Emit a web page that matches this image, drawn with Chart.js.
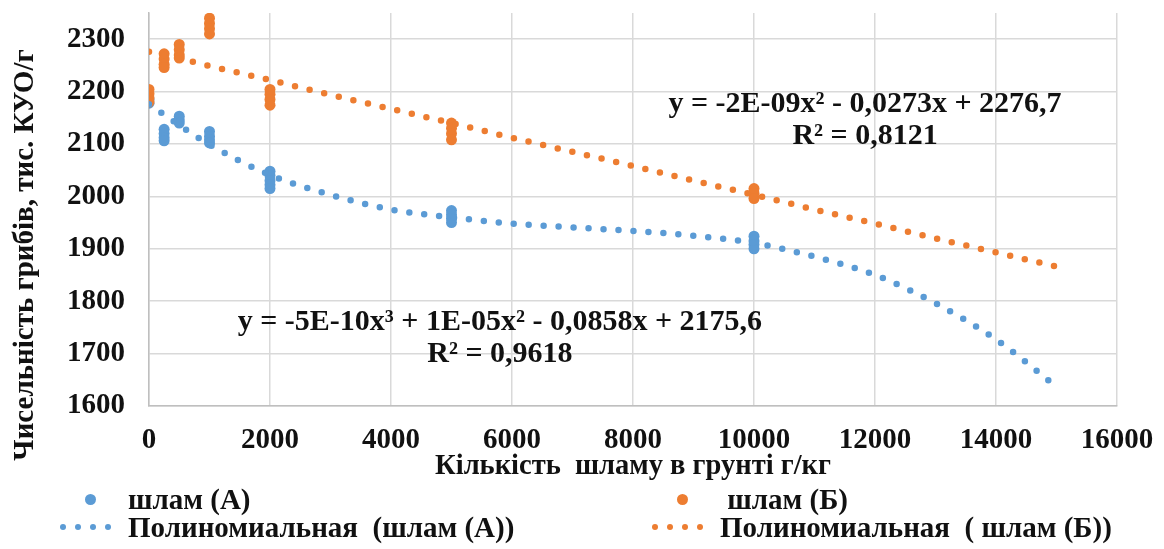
<!DOCTYPE html>
<html lang="uk">
<head>
<meta charset="utf-8">
<title>Чисельність грибів</title>
<script src="https://cdn.jsdelivr.net/npm/chart.js@4.4.1/dist/chart.umd.min.js"></script>
<style>
  html, body { margin: 0; padding: 0; background: #fff; }
  #wrap { position: relative; width: 1164px; height: 549px; }
  #wrap canvas { position: absolute; left: 0; top: 0; }
  #legend {
    position: absolute; left: 58px; top: 485px; width: 1100px;
    display: grid; grid-template-columns: 592px 500px;
    font: bold 29px "Liberation Serif", "Times New Roman", serif; color: #111;
  }
  .lg-item { display: flex; align-items: center; height: 28px; white-space: pre; }
  .lg-mark { position: relative; width: 70px; height: 28px; flex: none; }
  .lg-dot { position: absolute; border-radius: 50%; }
</style>
</head>
<body>
<div id="wrap">
  <canvas id="fungiChart" width="1164" height="549"></canvas>
  <div id="legend"></div>
</div>
<script>
// sludge dose, g/kg soil
const doses = [0, 250, 500, 1000, 2000, 5000, 10000];

// replicate counts, thousand CFU/g, one row per dose
const sludgeA = [
  [2178, 2185],
  [2128, 2120, 2112, 2106],
  [2153, 2146, 2140],
  [2124, 2115, 2108, 2102],
  [2048, 2040, 2030, 2022, 2015],
  [1973, 1965, 1958, 1950],
  [1924, 1915, 1908, 1900]
];
const sludgeB = [
  [2204, 2196, 2188, 2180],
  [2272, 2262, 2252, 2246],
  [2290, 2280, 2270, 2264],
  [2340, 2330, 2320, 2310],
  [2204, 2195, 2185, 2174],
  [2140, 2130, 2120, 2108],
  [2015, 2006, 1996]
];

// polynomial trend lines, forecast to 15000
const trendX = [0, 500, 1000, 2000, 3000, 4000, 5000, 6000, 7000, 8000, 9000, 10000, 11000, 12000, 13000, 14000, 15000];
const trendA = [2176, 2136, 2099, 2041, 2003, 1975, 1960, 1948, 1941, 1934, 1925, 1911, 1885, 1850, 1796, 1727, 1637];
const trendB = [2276, 2263, 2249, 2222, 2194, 2167, 2140, 2112, 2085, 2058, 2030, 2003, 1975, 1948, 1920, 1893, 1866];

const xTicks = { min: 0, max: 16000, step: 2000 };
const yTicks = { min: 1600, max: 2350, step: 100 };

const seriesNames = ['шлам (А)', ' шлам (Б)', 'Полиномиальная  (шлам (А))', 'Полиномиальная  ( шлам (Б))'];
const trendNotes = [
  { x: 5800, y: 1759, lines: ['y = -5E-10x³ + 1E-05x² - 0,0858x + 2175,6', 'R² = 0,9618'] },
  { x: 11835, y: 2176, lines: ['y = -2E-09x² - 0,0273x + 2276,7', 'R² = 0,8121'] }
];
const xTitle = 'Кількість  шламу в грунті г/кг';
const yTitle = 'Чисельність грибів, тис. КУО/г';

const BLUE = '#5B9BD5';
const ORANGE = '#ED7D31';
const FONT = '"Liberation Serif", "Times New Roman", serif';

const toPoints = (rows) => doses.flatMap((d, i) => rows[i].map(v => ({ x: d, y: v })));
const toLine = (ys) => trendX.map((x, i) => ({ x, y: ys[i] }));

// equations, R² and the rotated y title
const notesPlugin = {
  id: 'notes',
  afterDatasetsDraw(chart) {
    const { ctx, scales: { x, y } } = chart;
    ctx.save();
    ctx.font = `bold 30px ${FONT}`;
    ctx.fillStyle = '#111';
    ctx.textAlign = 'center';
    ctx.textBaseline = 'middle';
    trendNotes.forEach(n => {
      const px = x.getPixelForValue(n.x);
      const py = y.getPixelForValue(n.y);
      n.lines.forEach((t, i) => ctx.fillText(t, px, py + i * 32));
    });
    ctx.font = `bold 29px ${FONT}`;
    ctx.translate(26, 255);
    ctx.rotate(-Math.PI / 2);
    ctx.fillText(yTitle, 0, 0);
    ctx.restore();
  }
};

const trendStyle = {
  showLine: true, pointRadius: 0, borderWidth: 6.5, borderDash: [0, 15],
  borderCapStyle: 'round', cubicInterpolationMode: 'monotone', fill: false
};

const tickFont = { family: FONT, size: 29, weight: 'bold' };

const chart = new Chart(document.getElementById('fungiChart'), {
  type: 'scatter',
  data: {
    datasets: [
      { label: seriesNames[0], data: toPoints(sludgeA), backgroundColor: BLUE, borderColor: BLUE, pointRadius: 5.5, borderWidth: 0, order: 2 },
      { label: seriesNames[1], data: toPoints(sludgeB), backgroundColor: ORANGE, borderColor: ORANGE, pointRadius: 5.5, borderWidth: 0, order: 1 },
      { label: seriesNames[2], data: toLine(trendA), borderColor: BLUE, order: 0, ...trendStyle },
      { label: seriesNames[3], data: toLine(trendB), borderColor: ORANGE, order: 0, ...trendStyle }
    ]
  },
  options: {
    responsive: false,
    animation: false,
    events: [],
    layout: { padding: { left: 0, top: 13, right: 47, bottom: 65 } },
    plugins: { legend: { display: false }, tooltip: { enabled: false } },
    scales: {
      x: {
        type: 'linear', min: xTicks.min, max: xTicks.max,
        afterFit: s => { s.height = 78; s.paddingLeft = 0; s.paddingRight = 0; },
        ticks: { stepSize: xTicks.step, padding: 17, color: '#111', font: tickFont, callback: v => String(v) },
        grid: { color: '#d9d9d9', lineWidth: 1.5, drawTicks: false },
        border: { color: '#bfbfbf', width: 1.5 },
        title: { display: true, text: xTitle, color: '#111', padding: 0, font: { family: FONT, size: 28.5, weight: 'bold' } }
      },
      y: {
        min: yTicks.min, max: yTicks.max,
        afterFit: s => { s.width = 149; s.paddingTop = 0; s.paddingBottom = 0; },
        ticks: { stepSize: yTicks.step, includeBounds: false, padding: 24, color: '#111', font: tickFont, callback: v => String(v) },
        grid: { color: '#d9d9d9', lineWidth: 1.5, drawTicks: false },
        border: { color: '#bfbfbf', width: 1.5 }
      }
    }
  },
  plugins: [notesPlugin]
});

// two-column legend under the plot, built from the datasets
const legend = document.getElementById('legend');
chart.data.datasets.forEach(ds => {
  const item = document.createElement('div');
  item.className = 'lg-item';
  const mark = document.createElement('span');
  mark.className = 'lg-mark';
  const dots = ds.showLine ? [5, 20, 35, 50] : [32];
  const size = ds.showLine ? 6.5 : 11;
  dots.forEach(cx => {
    const d = document.createElement('span');
    d.className = 'lg-dot';
    d.style.cssText = `left:${cx - size / 2}px;top:${14 - size / 2}px;width:${size}px;height:${size}px;background:${ds.borderColor};`;
    mark.appendChild(d);
  });
  const text = document.createElement('span');
  text.textContent = ds.label;
  item.append(mark, text);
  legend.appendChild(item);
});
</script>
</body>
</html>
